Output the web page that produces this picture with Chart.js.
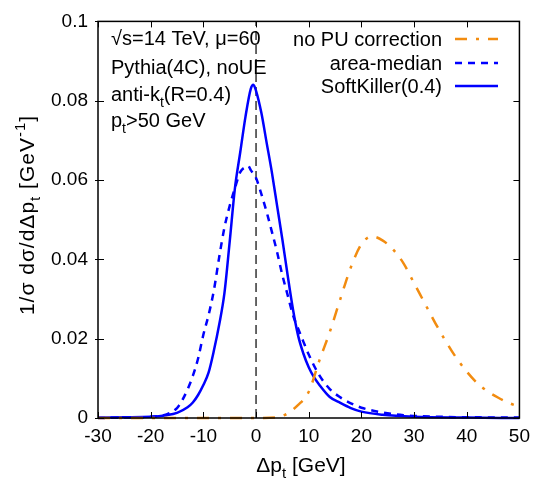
<!DOCTYPE html>
<html>
<head>
<meta charset="utf-8">
<script src="https://cdn.jsdelivr.net/npm/chart.js@4.4.1/dist/chart.umd.min.js"></script>
<style>
  html, body { margin: 0; padding: 0; background: #fff; }
  #wrap { width: 537px; height: 480px; }
</style>
</head>
<body>
<div id="wrap"><canvas id="chart" width="537" height="480"></canvas></div>
<script>
// tick values / labels
const xTicks = [-30, -20, -10, 0, 10, 20, 30, 40, 50];
const yTicks = [0, 0.02, 0.04, 0.06, 0.08, 0.1];
const yTickLabels = ['0', '0.02', '0.04', '0.06', '0.08', '0.1'];

// no PU correction
const noPuX = [-30, -20, -10, 0, 4, 5.5, 8, 10, 12, 14, 16, 18, 20, 22, 24, 26, 28, 30, 32, 34, 36, 38, 40, 42, 44, 46, 48, 50];
const noPuY = [0, 0, 0, 0, 0.0002, 0.0008, 0.0033, 0.0066, 0.0144, 0.0217, 0.030, 0.038, 0.0438, 0.0458, 0.0448, 0.0425, 0.039, 0.034, 0.029, 0.024, 0.0194, 0.0152, 0.0117, 0.0088, 0.0067, 0.0051, 0.0038, 0.0028];

// area-median
const areaX = [-30, -25, -20, -17, -15, -14, -13, -12, -11, -10, -9, -8, -7, -6, -5, -4, -3, -2, -1.5, -1, 0, 1, 2, 3, 4, 5, 6, 7, 8, 9, 10, 12, 14, 16, 18, 20, 24, 28, 35, 50];
const areaY = [0, 0.0001, 0.0003, 0.0009, 0.0025, 0.0045, 0.0072, 0.0106, 0.015, 0.021, 0.026, 0.0322, 0.0405, 0.048, 0.0535, 0.058, 0.062, 0.0633, 0.0636, 0.0625, 0.0605, 0.0565, 0.052, 0.047, 0.0418, 0.036, 0.031, 0.026, 0.0225, 0.0192, 0.016, 0.0108, 0.0073, 0.0052, 0.0037, 0.0026, 0.0014, 0.0007, 0.0003, 0.0001];

// SoftKiller(0.4)
const skX = [-30, -25, -20, -17, -15, -13, -12, -11, -10, -9, -8, -7, -6, -5, -4, -3, -2, -1, -0.5, 0, 1, 2, 3, 4, 5, 6, 7, 8, 9, 10, 11, 12, 14, 16, 18, 20, 24, 30, 40, 50];
const skY = [0.0001, 0.0002, 0.0003, 0.0007, 0.0013, 0.0027, 0.0039, 0.0058, 0.0083, 0.0115, 0.017, 0.0235, 0.0315, 0.0445, 0.058, 0.067, 0.076, 0.083, 0.084, 0.0825, 0.077, 0.0695, 0.062, 0.0535, 0.045, 0.036, 0.0275, 0.0207, 0.0162, 0.0128, 0.0103, 0.0084, 0.0053, 0.0038, 0.0025, 0.0016, 0.0008, 0.0003, 0.0001, 0];

// dashed reference line at zero
const zeroLineX = [0, 0];
const zeroLineY = [0, 0.1];

const FONT = '"Liberation Sans", Arial, sans-serif';
const ORANGE = '#f28c10';
const BLUE = '#0000ff';

function pts(xs, ys) {
    return xs.map((x, i) => ({ x: x, y: ys[i] }));
}

// draw text with sub/superscript pieces: [text, 'n'|'sub'|'sup']
function richText(ctx, parts, x, y, size) {
    let cx = x;
    parts.forEach(p => {
        const small = p[1] !== 'n';
        ctx.font = (small ? Math.round(size * 0.7) : size) + 'px ' + FONT;
        const dy = p[1] === 'sub' ? size * 0.3 : (p[1] === 'sup' ? -size * 0.42 : 0);
        ctx.fillText(p[0], cx, y + dy);
        cx += ctx.measureText(p[0]).width;
    });
    return cx - x;
}
function richWidth(ctx, parts, size) {
    let w = 0;
    parts.forEach(p => {
        ctx.font = (p[1] !== 'n' ? Math.round(size * 0.7) : size) + 'px ' + FONT;
        w += ctx.measureText(p[0]).width;
    });
    return w;
}

const framePlugin = {
    id: 'framePlugin',
    afterDraw(chart) {
        const ctx = chart.ctx;
        const a = chart.chartArea;
        const xs = chart.scales.x, ys = chart.scales.y;
        ctx.save();
        ctx.strokeStyle = '#000';
        ctx.lineWidth = 1.5;
        ctx.setLineDash([]);
        ctx.strokeRect(a.left, a.top, a.right - a.left, a.bottom - a.top);
        ctx.lineWidth = 1;
        xTicks.forEach(v => {
            const px = Math.round(xs.getPixelForValue(v)) + 0.5;
            ctx.beginPath();
            ctx.moveTo(px, a.bottom); ctx.lineTo(px, a.bottom - 6);
            ctx.moveTo(px, a.top); ctx.lineTo(px, a.top + 6);
            ctx.stroke();
        });
        yTicks.forEach(v => {
            const py = Math.round(ys.getPixelForValue(v)) + 0.5;
            ctx.beginPath();
            ctx.moveTo(a.left - 3, py); ctx.lineTo(a.left + 6, py);
            ctx.moveTo(a.right, py); ctx.lineTo(a.right - 6, py);
            ctx.stroke();
        });

        ctx.fillStyle = '#000';
        ctx.textBaseline = 'alphabetic';
        ctx.textAlign = 'left';

        // annotation block
        const ax = 111;
        richText(ctx, [['\u221As=14 TeV, \u03BC=60', 'n']], ax, 45, 20);
        richText(ctx, [['Pythia(4C), noUE', 'n']], ax, 74, 20);
        richText(ctx, [['anti-k', 'n'], ['t', 'sub'], ['(R=0.4)', 'n']], ax, 101, 20);
        richText(ctx, [['p', 'n'], ['t', 'sub'], ['>50 GeV', 'n']], ax, 127, 20);

        // legend
        const legend = [
            { label: 'no PU correction', color: ORANGE, dash: [12, 9, 3, 9], width: 2.5, y: 46 },
            { label: 'area-median', color: BLUE, dash: [7, 6], width: 2.5, y: 70 },
            { label: 'SoftKiller(0.4)', color: BLUE, dash: [], width: 2.5, y: 93 }
        ];
        legend.forEach(l => {
            ctx.font = '20px ' + FONT;
            ctx.textAlign = 'right';
            ctx.fillStyle = '#000';
            ctx.fillText(l.label, 442, l.y);
            ctx.beginPath();
            ctx.strokeStyle = l.color;
            ctx.lineWidth = l.width;
            ctx.setLineDash(l.dash);
            ctx.moveTo(455, l.y - 7);
            ctx.lineTo(498, l.y - 7);
            ctx.stroke();
        });
        ctx.setLineDash([]);
        ctx.textAlign = 'left';
        ctx.fillStyle = '#000';

        // x title
        const xt = [['\u0394p', 'n'], ['t', 'sub'], [' [GeV]', 'n']];
        const xw = richWidth(ctx, xt, 21);
        richText(ctx, xt, 301 - xw / 2, 472, 21);

        // y title (rotated)
        ctx.letterSpacing = '1px';
        const yt = [['1/\u03C3 d\u03C3/d\u0394p', 'n'], ['t', 'sub'], [' [GeV', 'n'], ['-1', 'sup'], [']', 'n']];
        const yw = richWidth(ctx, yt, 21);
        ctx.translate(34, 215);
        ctx.rotate(-Math.PI / 2);
        richText(ctx, yt, -yw / 2, 0, 21);
        ctx.restore();
    }
};

new Chart(document.getElementById('chart').getContext('2d'), {
    type: 'scatter',
    data: {
        datasets: [
            {
                label: 'no PU correction',
                data: pts(noPuX, noPuY),
                showLine: true,
                borderColor: ORANGE,
                borderWidth: 2.5,
                borderDash: [12, 9, 3, 9],
                pointRadius: 0,
                cubicInterpolationMode: 'monotone',
                clip: 4
            },
            {
                label: 'area-median',
                data: pts(areaX, areaY),
                showLine: true,
                borderColor: BLUE,
                borderWidth: 2.5,
                borderDash: [7, 6],
                pointRadius: 0,
                cubicInterpolationMode: 'monotone',
                clip: 4
            },
            {
                label: 'SoftKiller(0.4)',
                data: pts(skX, skY),
                showLine: true,
                borderColor: BLUE,
                borderWidth: 2.5,
                pointRadius: 0,
                cubicInterpolationMode: 'monotone',
                clip: 4
            },
            {
                label: 'zero',
                data: pts(zeroLineX, zeroLineY),
                showLine: true,
                borderColor: '#000',
                borderWidth: 1.2,
                borderDash: [9, 5],
                pointRadius: 0
            }
        ]
    },
    options: {
        responsive: false,
        animation: false,
        layout: { padding: { top: 18, right: 14, left: 0, bottom: 0 } },
        plugins: {
            legend: { display: false },
            tooltip: { enabled: false }
        },
        scales: {
            x: {
                type: 'linear',
                min: -30,
                max: 50,
                afterBuildTicks: s => { s.ticks = xTicks.map(v => ({ value: v })); },
                afterFit: s => { s.height = 62; },
                grid: { display: false, drawTicks: false },
                border: { display: false },
                ticks: {
                    padding: 7,
                    color: '#000',
                    font: { family: FONT, size: 19 },
                    maxRotation: 0,
                    callback: v => String(v)
                }
            },
            y: {
                type: 'linear',
                min: 0,
                max: 0.1,
                afterBuildTicks: s => { s.ticks = yTicks.map(v => ({ value: v })); },
                afterFit: s => { s.width = 98; },
                grid: { display: false, drawTicks: false },
                border: { display: false },
                ticks: {
                    padding: 10,
                    color: '#000',
                    font: { family: FONT, size: 19 },
                    callback: (v, i) => yTickLabels[i]
                }
            }
        }
    },
    plugins: [framePlugin]
});
</script>
</body>
</html>
